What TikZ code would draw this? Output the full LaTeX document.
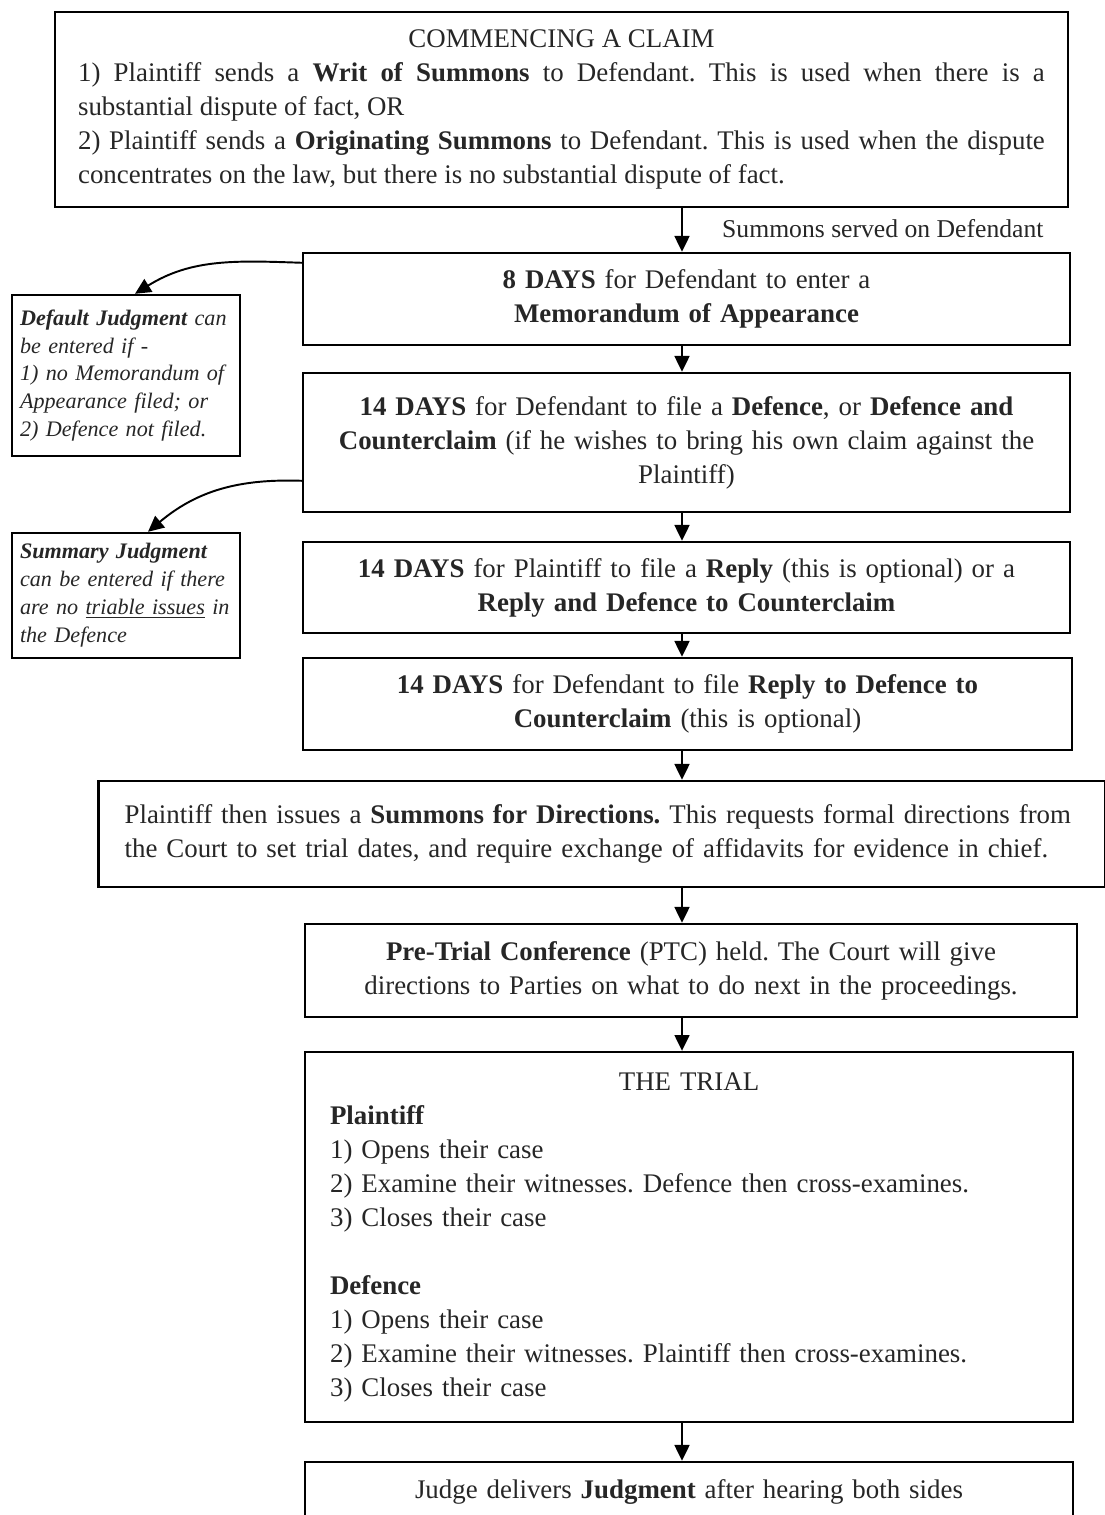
\documentclass[tikz,border=0pt]{standalone}
\usepackage{fontspec}
\setmainfont{Liberation Serif}
\usetikzlibrary{arrows.meta,calc}

\begin{document}
\frenchspacing
\begin{tikzpicture}[x=0.02cm, y=-0.02cm, >={Triangle[length=9pt,width=8.5pt]},
    box/.style={draw, line width=1.4pt, inner sep=0pt, align=center, text=black!85,
        font=\fontsize{15.3pt}{19.35pt}\selectfont},
    side/.style={draw, line width=1.4pt, inner sep=0pt, align=left, text=black!85,
        minimum width=4.56cm, text width=4.24cm, font=\itshape\fontsize{12.6pt}{15.9pt}\selectfont},
    arr/.style={->, line width=1.1pt}]
    \useasboundingbox (0,0) rectangle (1105,1515);
    \clip (0,0) rectangle (1105,1515);

    % 起诉
    \node[box, align=justify, minimum width=20.26cm, minimum height=3.9cm, text width=19.34cm] (claim) at (561.5,109.5) {%
        \makebox[\linewidth]{COMMENCING A CLAIM}\par
        1) Plaintiff sends a \textbf{Writ of Summons} to Defendant. This is used when there is a\linebreak
        substantial dispute of fact, OR\par
        2) Plaintiff sends a \textbf{Originating Summons} to Defendant. This is used when the dispute\linebreak
        concentrates on the law, but there is no substantial dispute of fact.};

    % 各期限
    \node[box, minimum width=15.34cm, minimum height=1.84cm, text width=14.8cm] (days8) at (686.5,299)
        {\textbf{8 DAYS} for Defendant to enter a\\ \textbf{Memorandum of Appearance}};
    \node[box, minimum width=15.34cm, minimum height=2.78cm, text width=14.8cm] (days14d) at (686.5,442.5)
        {\textbf{14 DAYS} for Defendant to file a \textbf{Defence}, or \textbf{Defence and}\\
         \textbf{Counterclaim} (if he wishes to bring his own claim against the\\ Plaintiff)};
    \node[box, minimum width=15.34cm, minimum height=1.82cm, text width=14.8cm] (days14p) at (686.5,587.5)
        {\textbf{14 DAYS} for Plaintiff to file a \textbf{Reply} (this is optional) or a\\
         \textbf{Reply and Defence to Counterclaim}};
    \node[box, minimum width=15.38cm, minimum height=1.84cm, text width=14.8cm] (days14r) at (687.5,704)
        {\textbf{14 DAYS} for Defendant to file \textbf{Reply to Defence to}\\
         \textbf{Counterclaim} (this is optional)};

    % 指示、审前会议
    \node[box, align=left, inner xsep=0.52cm, text width=19.1cm, minimum height=2.12cm] (directions) at (602,834)
        {\mbox{Plaintiff then issues a \textbf{Summons for Directions.} This requests formal directions from}\\
         \mbox{the Court to set trial dates, and require exchange of affidavits for evidence in chief.}};
    \node[box, minimum width=15.44cm, minimum height=1.86cm, text width=14.8cm] (ptc) at (691,970.5)
        {\textbf{Pre-Trial Conference} (PTC) held. The Court will give\\
         directions to Parties on what to do next in the proceedings.};

    % 审判
    \node[box, align=left, minimum width=15.36cm, minimum height=7.4cm, text width=14.36cm] (trial) at (689,1237)
        {\makebox[\linewidth]{THE TRIAL}\\
         \textbf{Plaintiff}\\
         1) Opens their case\\
         2) Examine their witnesses. Defence then cross-examines.\\
         3) Closes their case\\
         \mbox{}\\
         \textbf{Defence}\\
         1) Opens their case\\
         2) Examine their witnesses. Plaintiff then cross-examines.\\
         3) Closes their case};
    \node[box, minimum width=15.36cm, minimum height=1.2cm, text width=14.8cm] (judgment) at (689,1492)
        {Judge delivers \textbf{Judgment} after hearing both sides};

    % 左侧判决
    \node[side, minimum height=3.22cm] (default) at (126,375.5)
        {\textbf{Default Judgment} can\\ be entered if -\\ 1) no Memorandum of\\ Appearance filed; or\\ 2) Defence not filed.};
    \node[side, minimum height=2.5cm] (summary) at (126,595.5)
        {\textbf{Summary Judgment}\\ can be entered if there\\ are no \underline{triable issues} in\\ the Defence};

    % 箭头
    \coordinate (ax) at (682,0);
    \draw[arr] (claim.south -| ax) -- (days8.north -| ax);
    \node[anchor=west, text=black!85, font=\fontsize{14.6pt}{16pt}\selectfont] (served) at (716,229) {Summons served on Defendant};
    \draw[arr] (days8.south -| ax) -- (days14d.north -| ax);
    \draw[arr] (days14d.south -| ax) -- (days14p.north -| ax);
    \draw[arr] (days14p.south -| ax) -- (days14r.north -| ax);
    \draw[arr] (days14r.south -| ax) -- (directions.north -| ax);
    \draw[arr] (directions.south -| ax) -- (ptc.north -| ax);
    \draw[arr] (ptc.south -| ax) -- (trial.north -| ax);
    \draw[arr] (trial.south -| ax) -- (judgment.north -| ax);

    \draw[arr] ($(days8.north west)+(0,11)$) to[out=178, in=32] ($(default.north)+(9,0)$);
    \draw[arr] ($(days14d.north west)+(0,109)$) to[out=178, in=40] ($(summary.north)+(22,0)$);
\end{tikzpicture}
\end{document}
